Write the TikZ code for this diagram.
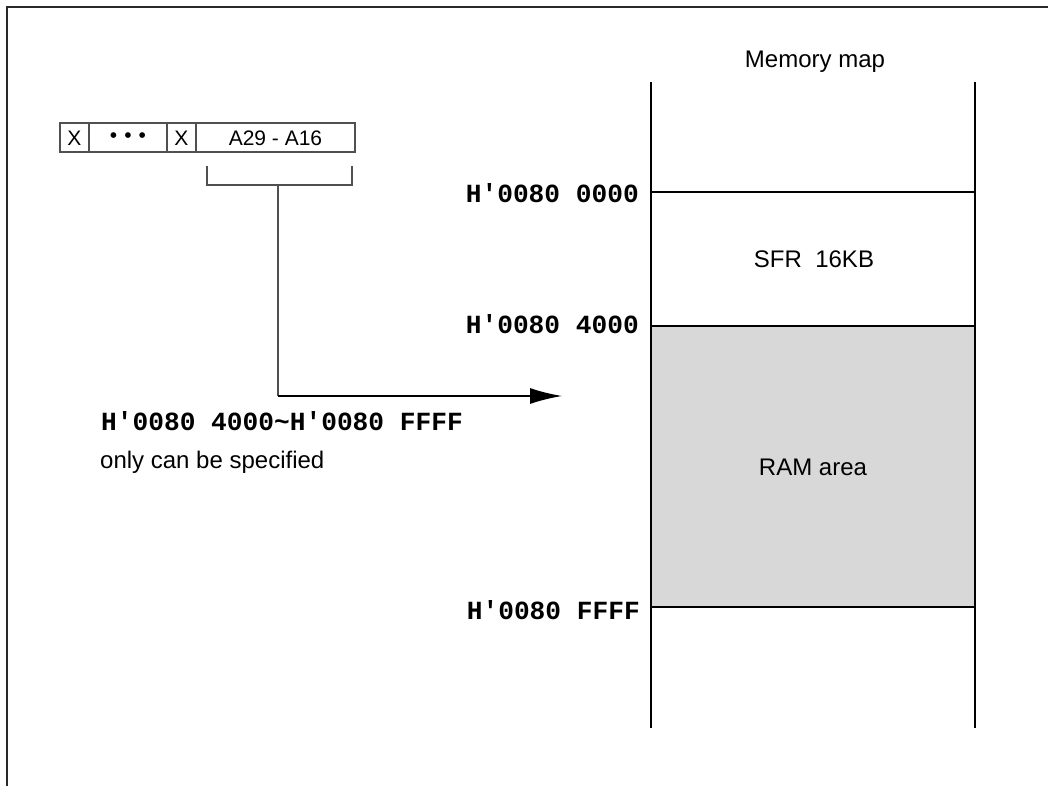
\documentclass[tikz,border=0pt]{standalone}
\usepackage{fontspec}
\setmainfont{Liberation Sans}
\setmonofont{Liberation Mono}
\usetikzlibrary{arrows.meta}
\definecolor{ramfill}{RGB}{216,216,216}
\definecolor{framec}{RGB}{40,40,40}
\definecolor{regline}{RGB}{80,80,80}
\tikzset{
  sans24/.style={font=\fontsize{24pt}{28pt}\selectfont, inner sep=0pt},
  sans21/.style={font=\fontsize{21pt}{25pt}\selectfont, inner sep=0pt},
  monolab/.style={font=\fontsize{26.2pt}{30pt}\selectfont\ttfamily\bfseries, inner sep=0pt},
  mapline/.style={line width=2.8pt, black},
  regbox/.style={line width=1.3pt, regline},
  framel/.style={line width=2.2pt, framec},
  connector/.style={line width=1.4pt, regline},
}
\begin{document}
\begin{tikzpicture}[x=1pt,y=-1pt]
\useasboundingbox (0,0) rectangle (1048,786);
% frame
\draw[framel] (7,786) -- (7,7) -- (1048,7);

% register box
\draw[regbox] (60,123) rectangle (355,152);
\draw[regbox] (89,123) -- (89,152);
\draw[regbox] (167,123) -- (167,152);
\draw[regbox] (196,123) -- (196,152);
\node[sans21] (x1) at (74.5,138) {X};
\node[sans21] (dots) at (128,138) {•\,\,•\,\,•};
\node[sans21] (x2) at (181.5,138) {X};
\node[sans21] (addr) at (275.5,138) {A29 - A16};

% bracket and arrow
\coordinate (bl) at (207,166);
\coordinate (blb) at (207,185);
\coordinate (brb) at (352,185);
\coordinate (br) at (352,166);
\coordinate (stemtop) at (278,185);
\coordinate (corner) at (278,396);
\coordinate (tip) at (562,396);
\draw[connector] (bl) -- (blb) -- (brb) -- (br);
\draw[connector] (stemtop) -- (corner);
\draw[line width=1.5pt, black, -{Latex[length=32pt,width=16pt]}] (corner) -- (tip);

% memory map
\fill[ramfill] (651,326) rectangle (975,607);
\draw[mapline] (651,82) -- (651,728);
\draw[mapline] (975,82) -- (975,728);
\draw[mapline] (651,192) -- (975,192);
\draw[mapline] (651,326) -- (975,326);
\draw[mapline] (651,607) -- (975,607);

\node[sans24] (title) at (815,62) {Memory map};
\node[sans24] (sfr) at (814,259) {SFR\ \ 16KB};
\node[sans24] (ram) at (813,467) {RAM area};

\node[monolab, anchor=east] (a0) at (639,193) {H\textquotesingle 0080 0000};
\node[monolab, anchor=east] (a4) at (639,324) {H\textquotesingle 0080 4000};
\node[monolab, anchor=east] (af) at (640,610) {H\textquotesingle 0080 FFFF};

\node[monolab, anchor=west] (range) at (101,421.5) {H\textquotesingle 0080 4000\textasciitilde H\textquotesingle 0080 FFFF};
\node[sans24, anchor=base west] (note) at (100,468) {only can be specified};
\end{tikzpicture}
\end{document}
